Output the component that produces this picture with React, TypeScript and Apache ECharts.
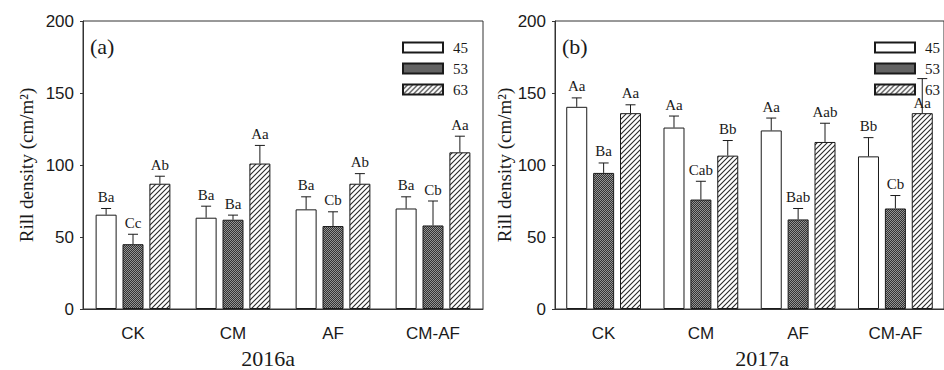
import React, { useEffect, useRef } from 'react';
import * as echarts from 'echarts';

const categories = ['CK', 'CM', 'AF', 'CM-AF'];
const seriesNames = ['45', '53', '63'];
const yMin = 0;
const yMax = 200;
const yStep = 50;

// 2016a panel (a)
const mean2016_45 = [65.5, 63.4, 69.2, 69.8];
const sd2016_45 = [4.3, 8.0, 8.7, 8.1];
const letters2016_45 = ['Ba', 'Ba', 'Ba', 'Ba'];
const mean2016_53 = [45.0, 62.0, 57.6, 58.0];
const sd2016_53 = [6.9, 3.2, 9.9, 17.0];
const letters2016_53 = ['Cc', 'Ba', 'Cb', 'Cb'];
const mean2016_63 = [87.0, 101.0, 87.0, 108.8];
const sd2016_63 = [5.2, 12.6, 7.0, 11.2];
const letters2016_63 = ['Ab', 'Aa', 'Ab', 'Aa'];

// 2017a panel (b)
const mean2017_45 = [140.4, 126.0, 124.0, 106.0];
const sd2017_45 = [6.2, 8.0, 8.6, 13.0];
const letters2017_45 = ['Aa', 'Aa', 'Aa', 'Bb'];
const mean2017_53 = [94.5, 76.0, 62.2, 69.8];
const sd2017_53 = [6.9, 12.7, 7.6, 9.0];
const letters2017_53 = ['Ba', 'Cab', 'Bab', 'Cb'];
const mean2017_63 = [136.0, 106.5, 116.0, 136.0];
const sd2017_63 = [5.8, 10.5, 13.0, 24.0];
const letters2017_63 = ['Aa', 'Bb', 'Aab', 'Aa'];
// letter placed just on top of the bar instead of above the error cap
const letterOnBar2017_63 = [false, false, false, true];

const panelTitles = ['(a)', '(b)'];
const yearLabels = ['2016a', '2017a'];
const yName = 'Rill density (cm/m²)';

const SERIF = '"Liberation Serif", "Times New Roman", serif';
const SANS = '"Liberation Sans", Arial, sans-serif';
const INK = '#1a1a1a';
const BAR_W = 21;
const BAR_GAP = 0.28;
const STEP = BAR_W * (1 + BAR_GAP);

function makeHatch(): HTMLCanvasElement {
  const s = 5;
  const c = document.createElement('canvas');
  c.width = s;
  c.height = s;
  const ctx = c.getContext('2d')!;
  ctx.fillStyle = '#ffffff';
  ctx.fillRect(0, 0, s, s);
  ctx.strokeStyle = '#2a2a2a';
  ctx.lineWidth = 1.1;
  ctx.beginPath();
  ctx.moveTo(-1, s + 1);
  ctx.lineTo(s + 1, -1);
  ctx.moveTo(-1, 1);
  ctx.lineTo(1, -1);
  ctx.moveTo(s - 1, s + 1);
  ctx.lineTo(s + 1, s - 1);
  ctx.stroke();
  return c;
}

function makeDots(): HTMLCanvasElement {
  const c = document.createElement('canvas');
  c.width = 2;
  c.height = 2;
  const ctx = c.getContext('2d')!;
  ctx.fillStyle = '#333333';
  ctx.fillRect(0, 0, 2, 2);
  ctx.fillStyle = '#939393';
  ctx.fillRect(0, 0, 1, 1);
  ctx.fillRect(1, 1, 1, 1);
  return c;
}

function errSeries(
  gridIdx: number,
  means: number[][],
  sds: number[][],
  letters: string[][],
  onBar: boolean[][]
) {
  const data: number[][] = [];
  for (let s = 0; s < 3; s++) {
    for (let i = 0; i < categories.length; i++) {
      data.push([i, means[s][i] + sds[s][i], means[s][i], s]);
    }
  }
  return {
    type: 'custom',
    xAxisIndex: gridIdx,
    yAxisIndex: gridIdx,
    z: 5,
    silent: true,
    data,
    encode: { x: 0, y: 1 },
    renderItem: (params: any, api: any) => {
      const i = api.value(0);
      const top = api.value(1);
      const m = api.value(2);
      const s = api.value(3);
      const pb = api.coord([i, m]);
      const pt = api.coord([i, top]);
      const x = pb[0] + (s - 1) * STEP;
      const labelY = onBar[s][i] ? pb[1] - 3 : pt[1] - 4;
      return {
        type: 'group',
        children: [
          {
            type: 'line',
            shape: { x1: x, y1: pb[1], x2: x, y2: pt[1] },
            style: { stroke: INK, lineWidth: 1 },
          },
          {
            type: 'line',
            shape: { x1: x - 5, y1: pt[1], x2: x + 5, y2: pt[1] },
            style: { stroke: INK, lineWidth: 1 },
          },
          {
            type: 'text',
            x,
            y: labelY,
            style: {
              text: letters[s][i],
              align: 'center',
              verticalAlign: 'bottom',
              fontFamily: SERIF,
              fontSize: 15,
              fill: INK,
            },
          },
        ],
      };
    },
  };
}

export default function App() {
  const ref = useRef<HTMLDivElement>(null);
  useEffect(() => {
    if (!ref.current) return;
    const chart = echarts.init(ref.current, undefined, { renderer: 'svg' });
    const hatch = { image: makeHatch(), repeat: 'repeat' };
    const dots = { image: makeDots(), repeat: 'repeat' };
    const fills: any[] = ['#ffffff', dots, hatch];

    const panels = [
      {
        means: [mean2016_45, mean2016_53, mean2016_63],
        sds: [sd2016_45, sd2016_53, sd2016_63],
        letters: [letters2016_45, letters2016_53, letters2016_63],
        onBar: [[false, false, false, false], [false, false, false, false], [false, false, false, false]],
      },
      {
        means: [mean2017_45, mean2017_53, mean2017_63],
        sds: [sd2017_45, sd2017_53, sd2017_63],
        letters: [letters2017_45, letters2017_53, letters2017_63],
        onBar: [[false, false, false, false], [false, false, false, false], letterOnBar2017_63],
      },
    ];

    const grids = [
      { left: 83, right: 944 - 483, top: 21, bottom: 61 },
      { left: 555, right: -11, top: 21, bottom: 61 },
    ];
    const nameGaps = [47, 41];

    const series: any[] = [];
    panels.forEach((p, g) => {
      for (let s = 0; s < 3; s++) {
        series.push({
          type: 'bar',
          name: seriesNames[s],
          xAxisIndex: g,
          yAxisIndex: g,
          data: p.means[s],
          barWidth: BAR_W,
          barGap: BAR_GAP * 100 + '%',
          itemStyle: { color: fills[s], borderColor: INK, borderWidth: 1 },
          silent: true,
        });
      }
      series.push(errSeries(g, p.means, p.sds, p.letters, p.onBar));
    });

    const legendBase = {
      orient: 'vertical',
      top: 35,
      itemWidth: 40,
      itemHeight: 10,
      itemGap: 6,
      icon: 'rect',
      selectedMode: false,
      data: seriesNames,
      textStyle: { fontFamily: SERIF, fontSize: 15, color: INK, padding: [0, 0, 0, 5] },
    };

    chart.setOption({
      animation: false,
      backgroundColor: '#ffffff',
      grid: grids.map((gr) => ({
        ...gr,
        show: true,
        borderColor: '#333',
        borderWidth: 1,
        backgroundColor: 'transparent',
      })),
      legend: [
        { ...legendBase, left: 397 },
        { ...legendBase, left: 869 },
      ],
      xAxis: grids.map((_, g) => ({
        type: 'category',
        gridIndex: g,
        data: categories,
        boundaryGap: true,
        axisLine: { lineStyle: { color: '#333', width: 1 } },
        axisTick: { alignWithLabel: true, length: 5, lineStyle: { color: '#333' } },
        axisLabel: { fontFamily: SANS, fontSize: 17, color: INK, margin: 16 },
        splitLine: { show: false },
      })),
      yAxis: grids.map((_, g) => ({
        type: 'value',
        gridIndex: g,
        min: yMin,
        max: yMax,
        interval: yStep,
        name: yName,
        nameLocation: 'middle',
        nameGap: nameGaps[g],
        nameTextStyle: { fontFamily: SERIF, fontSize: 19, color: INK },
        axisLine: { show: true, lineStyle: { color: '#333', width: 1 } },
        axisTick: { show: true, length: 3, lineStyle: { color: '#333' } },
        axisLabel: { fontFamily: SANS, fontSize: 17, color: INK, margin: 9 },
        splitLine: { show: false },
      })),
      graphic: [
        { type: 'text', left: 90, top: 35, style: { text: panelTitles[0], fontFamily: SERIF, fontSize: 22, fill: INK } },
        { type: 'text', left: 562, top: 35, style: { text: panelTitles[1], fontFamily: SERIF, fontSize: 22, fill: INK } },
        { type: 'text', x: 268, y: 358, style: { text: yearLabels[0], fontFamily: SERIF, fontSize: 22, fill: INK, align: 'center', verticalAlign: 'middle' } },
        { type: 'text', x: 762, y: 358, style: { text: yearLabels[1], fontFamily: SERIF, fontSize: 22, fill: INK, align: 'center', verticalAlign: 'middle' } },
      ],
      series,
    });
    return () => chart.dispose();
  }, []);
  return (
    <div
      ref={ref}
      style={{ position: 'fixed', left: 0, top: 0, width: 944, height: 370, background: '#fff' }}
    />
  );
}
